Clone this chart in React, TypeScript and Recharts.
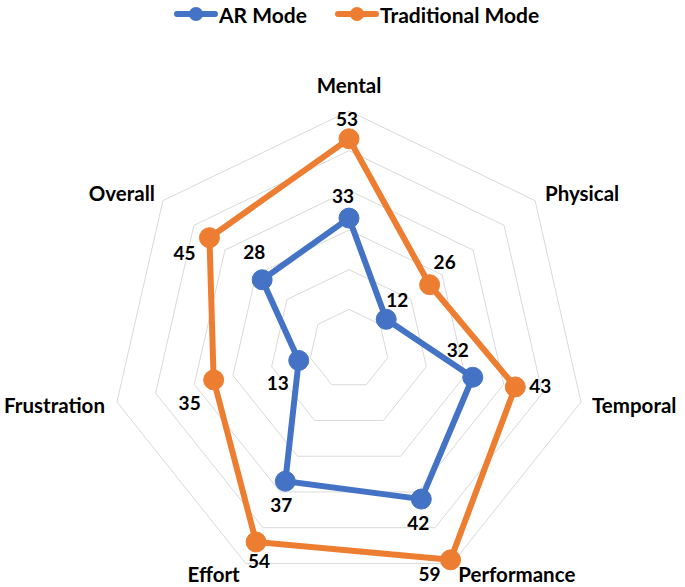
import React from "react";
import { PolarAngleAxis, PolarGrid, PolarRadiusAxis, Radar, RadarChart } from "recharts";

const categories = ["Mental", "Physical", "Temporal", "Performance", "Effort", "Frustration", "Overall"];
const arMode = [33, 12, 32, 42, 37, 13, 28];
const traditionalMode = [53, 26, 43, 59, 54, 35, 45];
const radiusTicks = [0, 10, 20, 30, 40, 50, 60];
const seriesNames = ["AR Mode", "Traditional Mode"];

const BLUE = "#4472C4";
const ORANGE = "#ED7D31";
const FONT = "Lato, 'Open Sans', sans-serif";

const W = 685;
const H = 587;
const CX = 349;
const CY = 349;
const OUTER = 238;

const data = categories.map((name, i) => ({ name, ar: arMode[i], trad: traditionalMode[i] }));

// label placement relative to the point (Excel-ish manual placement)
const arOffsets = [[-6, -23], [11, -20], [-15, -28], [-3, 23], [-4, 23], [-21, 22], [-8, -28]];
const tradOffsets = [[-2, -20], [15, -23], [25, -1], [-21, 14], [3, 19], [-24, 23], [-25, 15]];

const axisPlacement: Array<{ anchor: "start" | "middle" | "end"; dx: number; dy: number }> = [
  { anchor: "middle", dx: 0, dy: -26 },
  { anchor: "start", dx: 10, dy: -8 },
  { anchor: "start", dx: 11, dy: 3 },
  { anchor: "start", dx: 6, dy: 11 },
  { anchor: "end", dx: -6, dy: 11 },
  { anchor: "end", dx: -12, dy: 3 },
  { anchor: "end", dx: -8, dy: -8 },
];

function AngleTick(props: any) {
  const { payload, index } = props;
  const a = ((90 - (index * 360) / categories.length) * Math.PI) / 180;
  const vx = CX + OUTER * Math.cos(a);
  const vy = CY - OUTER * Math.sin(a);
  const p = axisPlacement[index];
  return (
    <text
      x={vx + p.dx}
      y={vy + p.dy}
      textAnchor={p.anchor}
      dominantBaseline="central"
      fontFamily={FONT}
      fontWeight={700}
      fontSize={20.5}
      fill="#000"
    >
      {payload.value}
    </text>
  );
}

function makeLabel(offsets: number[][]) {
  return (props: any) => {
    const { x, y, value, index } = props;
    const o = offsets[index] || [0, 0];
    return (
      <text
        x={x + o[0]}
        y={y + o[1]}
        textAnchor="middle"
        dominantBaseline="central"
        fontFamily={FONT}
        fontWeight={700}
        fontSize={19}
        fill="#000"
      >
        {value}
      </text>
    );
  };
}

function LegendSvg() {
  const items = [
    { label: seriesNames[0], color: BLUE, x: 174 },
    { label: seriesNames[1], color: ORANGE, x: 335 },
  ];
  return (
    <svg width={W} height={30} style={{ position: "absolute", left: 0, top: 0 }}>
      {items.map((it) => (
        <g key={it.label}>
          <line x1={it.x + 3} y1={14} x2={it.x + 41} y2={14} stroke={it.color} strokeWidth={6} strokeLinecap="round" />
          <circle cx={it.x + 22} cy={14} r={7} fill={it.color} />
          <text x={it.x + 45} y={14} dominantBaseline="central" fontFamily={FONT} fontWeight={700} fontSize={21} fill="#000">
            {it.label}
          </text>
        </g>
      ))}
    </svg>
  );
}

export default function App() {
  return (
    <div style={{ position: "absolute", left: 0, top: 0, width: W, height: H }}>
      <RadarChart width={W} height={H} data={data} cx={CX} cy={CY} outerRadius={OUTER} margin={{ top: 0, right: 0, bottom: 0, left: 0 }}>
        <PolarGrid gridType="polygon" radialLines={false} stroke="#d9d9d9" strokeWidth={1} />
        <PolarAngleAxis dataKey="name" tick={<AngleTick />} tickLine={false} axisLine={false} />
        <PolarRadiusAxis domain={[0, 60]} ticks={radiusTicks as any} tick={false} axisLine={false} />
        <Radar
          name={seriesNames[0]}
          dataKey="ar"
          stroke={BLUE}
          strokeWidth={6}
          fill="none"
          fillOpacity={0}
          dot={{ r: 10, fill: BLUE, stroke: BLUE, strokeWidth: 1, fillOpacity: 1 }}
          label={makeLabel(arOffsets)}
          isAnimationActive={false}
        />
        <Radar
          name={seriesNames[1]}
          dataKey="trad"
          stroke={ORANGE}
          strokeWidth={6}
          fill="none"
          fillOpacity={0}
          dot={{ r: 10, fill: ORANGE, stroke: ORANGE, strokeWidth: 1, fillOpacity: 1 }}
          label={makeLabel(tradOffsets)}
          isAnimationActive={false}
        />
      </RadarChart>
      <LegendSvg />
    </div>
  );
}
